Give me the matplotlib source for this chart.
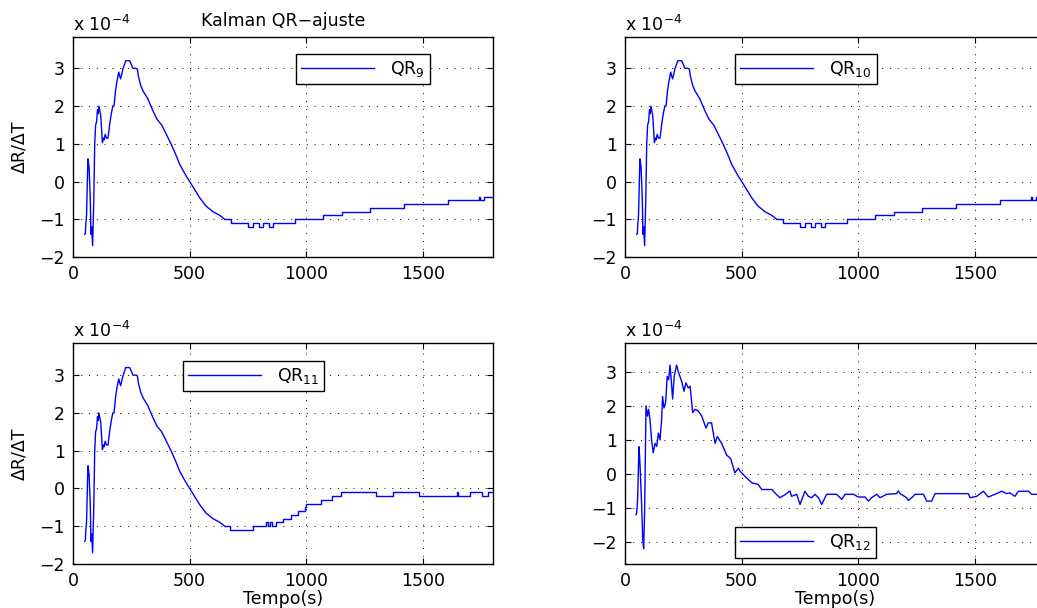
import matplotlib
matplotlib.use('Agg')
import matplotlib.pyplot as plt
import numpy as np

plt.rcParams['font.family'] = ['DejaVu Sans']
plt.rcParams['mathtext.fontset'] = 'dejavusans'
plt.rcParams['font.size'] = 12.5

# valores em unidades de 1e-4
# parte transitoria (linha) comum a QR9, QR10 e QR11
t_trans = [50, 53, 55, 58, 64, 69, 74, 77, 80, 84, 89, 93, 97, 101, 105, 108, 111, 119,
           126, 130, 133, 138, 143, 150, 157, 164, 171, 176, 182, 188, 196, 200, 204, 214,
           226, 243, 257, 270, 276, 280, 290, 300, 320, 343, 360, 380, 400, 420, 440, 457,
           480, 500, 520, 543, 570, 600, 630, 650]
v_trans = [-1.4, -1.38, -1.1, -0.9, 0.6, 0.37, -0.43, -1.4, -1.2, -1.7, -0.52, 0.99, 1.5,
           1.58, 1.9, 1.8, 2.0, 1.74, 1.03, 1.15, 1.1, 1.25, 1.15, 1.15, 1.5, 1.8, 2.0, 2.0,
           2.4, 2.65, 2.9, 2.8, 2.72, 2.98, 3.2, 3.2, 3.0, 3.0, 2.98, 2.8, 2.55, 2.4, 2.2,
           1.87, 1.65, 1.5, 1.25, 1.0, 0.72, 0.46, 0.2, 0.0, -0.2, -0.43, -0.65, -0.8, -0.9,
           -1.0]

# degraus (QR9 / QR10)
t_deg9 = [650, 679, 748, 770, 798, 814, 840, 857, 953, 1071, 1154, 1271, 1419, 1607, 1739,
          1746, 1760, 1800]
v_deg9 = [-1.0, -1.1, -1.2, -1.1, -1.2, -1.1, -1.2, -1.1, -1.0, -0.9, -0.8, -0.7, -0.6,
          -0.5, -0.4, -0.5, -0.4, -0.4]
t_deg10 = t_deg9
v_deg10 = v_deg9

# degraus QR11
t_deg11 = [650, 671, 771, 827, 835, 843, 852, 871, 900, 936, 964, 993, 1000, 1064, 1111,
           1147, 1300, 1371, 1483, 1647, 1652, 1700, 1753, 1779, 1800]
v_deg11 = [-1.0, -1.1, -1.0, -0.9, -1.0, -0.9, -1.0, -0.9, -0.8, -0.7, -0.6, -0.5, -0.4,
           -0.3, -0.2, -0.1, -0.2, -0.1, -0.2, -0.1, -0.2, -0.1, -0.2, -0.1, -0.1]

# QR12
t12 = [47, 50, 54, 60, 64, 71, 76, 80, 84, 90, 96, 101, 107, 114, 121, 129, 136, 143, 150,
       157, 161, 167, 174, 181, 187, 193, 199, 204, 211, 221, 230, 243, 253, 261, 271, 279,
       290, 300, 314, 329, 347, 357, 371, 386, 396, 414, 436, 453, 471, 486, 493, 507, 521,
       543, 571, 586, 629, 650, 664, 686, 707, 714, 736, 750, 771, 786, 800, 814, 829, 843,
       864, 907, 929, 943, 979, 1000, 1029, 1043, 1057, 1079, 1093, 1121, 1164, 1171, 1179,
       1207, 1214, 1229, 1243, 1279, 1293, 1314, 1329, 1471, 1479, 1507, 1536, 1557, 1586,
       1614, 1636, 1650, 1671, 1686, 1729, 1743, 1764, 1800]
v12 = [-1.2, -1.15, -0.75, 0.8, 0.32, -0.85, -1.93, -2.2, -1.15, 2.0, 1.7, 1.9, 1.6, 1.0,
       0.62, 0.9, 0.81, 1.2, 1.0, 1.6, 2.28, 1.94, 2.1, 2.87, 2.77, 3.2, 2.68, 2.2, 2.87, 3.2,
       2.97, 2.72, 2.43, 2.68, 2.53, 2.58, 1.8, 1.9, 1.85, 1.7, 1.35, 1.5, 1.5, 0.9, 1.1, 0.9,
       0.55, 0.45, 0.03, 0.17, 0.08, -0.02, -0.12, -0.26, -0.31, -0.46, -0.46, -0.61, -0.7,
       -0.61, -0.5, -0.66, -0.6, -0.9, -0.51, -0.66, -0.7, -0.6, -0.7, -0.9, -0.6, -0.6,
       -0.75, -0.6, -0.6, -0.68, -0.68, -0.8, -0.7, -0.6, -0.7, -0.6, -0.58, -0.5, -0.58,
       -0.7, -0.78, -0.7, -0.6, -0.6, -0.8, -0.8, -0.58, -0.58, -0.7, -0.66, -0.51, -0.68,
       -0.6, -0.51, -0.58, -0.56, -0.66, -0.51, -0.51, -0.6, -0.6, -0.65]

nomes = ['QR$_{9}$', 'QR$_{10}$', 'QR$_{11}$', 'QR$_{12}$']
xticks = [0, 500, 1000, 1500]
yticks = [-2, -1, 0, 1, 2, 3]

fig = plt.figure(figsize=(10.37, 6.08), dpi=100)
W, H = 1037.0, 608.0

def eixo(x0, y_top, y_bot):
    return fig.add_axes([x0 / W, 1 - y_bot / H, 420 / W, (y_bot - y_top) / H])

ax1 = eixo(73, 37, 257)
ax2 = eixo(625, 37, 257)
ax3 = eixo(73, 343, 564)
ax4 = eixo(625, 343, 564)

cor = (0, 0, 1)
l1, = ax1.plot(t_trans, v_trans, color=cor, lw=1)
ax1.step(t_deg9, v_deg9, where='post', color=cor, lw=1)
l2, = ax2.plot(t_trans, v_trans, color=cor, lw=1)
ax2.step(t_deg10, v_deg10, where='post', color=cor, lw=1)
l3, = ax3.plot(t_trans, v_trans, color=cor, lw=1)
ax3.step(t_deg11, v_deg11, where='post', color=cor, lw=1)
l4, = ax4.plot(t12, v12, color=cor, lw=1)

linhas = [l1, l2, l3, l4]
pos_leg = [(0.531, 0.923), (0.262, 0.923), (0.262, 0.919), (0.262, 0.167)]
ylims = [(-2, 3.83), (-2, 3.83), (-2, 3.85), (-2.65, 3.85)]

for ax, ln, nome, pl, yl in zip([ax1, ax2, ax3, ax4], linhas, nomes, pos_leg, ylims):
    ax.set_xlim(0, 1800)
    ax.set_ylim(*yl)
    ax.set_xticks(xticks)
    ax.set_yticks(yticks)
    ax.set_xticklabels([str(x) for x in xticks])
    ax.set_yticklabels([str(y).replace('-', '\u2212') for y in yticks])
    ax.tick_params(direction='in', length=4, width=0.8, top=True, right=True, pad=6)
    ax.grid(True, color='k', linestyle=(0, (1, 7)), linewidth=0.7)
    for s in ax.spines.values():
        s.set_linewidth(1)
    ax.text(0.0, 1.01, r'x 10$^{-4}$', transform=ax.transAxes, ha='left', va='bottom')
    leg = ax.legend([ln], [nome], loc='upper left', bbox_to_anchor=pl, borderaxespad=0,
                    fancybox=False, edgecolor='k', framealpha=1, handlelength=4.2,
                    borderpad=0.3, handletextpad=0.9)
    leg.get_frame().set_linewidth(1)

ax1.set_title('Kalman QR\u2212ajuste', pad=8, fontsize=12.5)
ax1.set_ylabel('\u0394R/\u0394T', labelpad=8)
ax3.set_ylabel('\u0394R/\u0394T', labelpad=8)
ax3.set_xlabel('Tempo(s)', labelpad=0)
ax4.set_xlabel('Tempo(s)', labelpad=0)

fig.savefig('out.png', dpi=100)
